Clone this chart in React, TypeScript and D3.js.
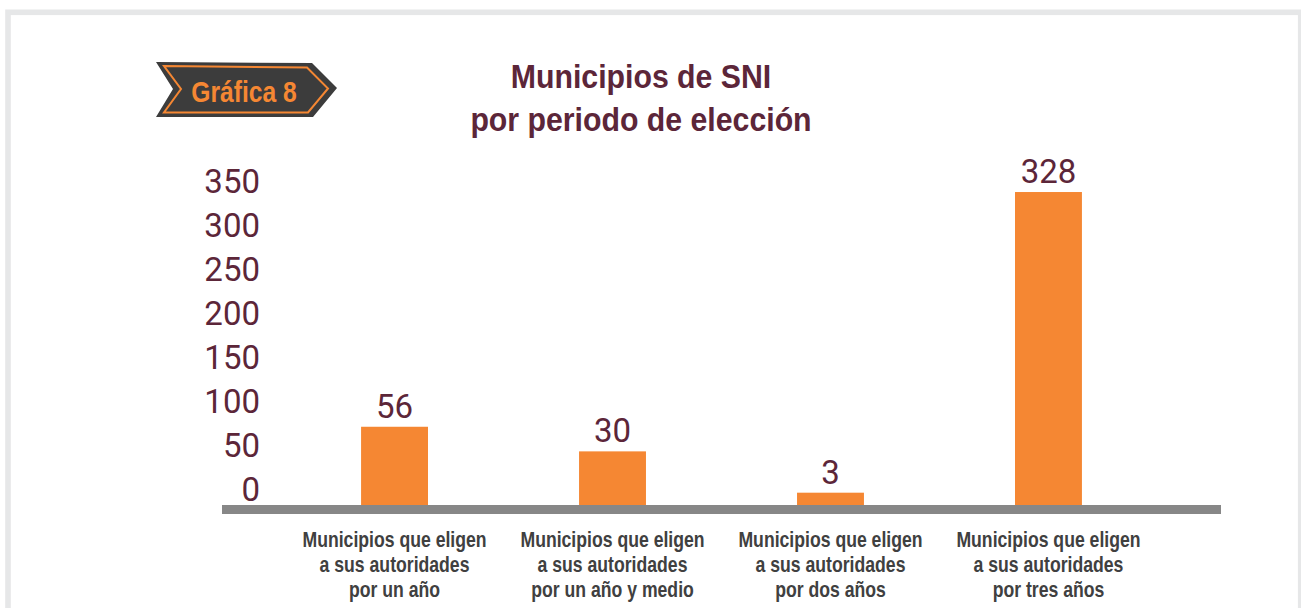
import React, { useEffect, useRef } from 'react';
import * as d3 from 'd3';

// categories, one entry per bar (label lines)
const categories: string[][] = [
  ['Municipios que eligen', 'a sus autoridades', 'por un año'],
  ['Municipios que eligen', 'a sus autoridades', 'por un año y medio'],
  ['Municipios que eligen', 'a sus autoridades', 'por dos años'],
  ['Municipios que eligen', 'a sus autoridades', 'por tres años'],
];

// counts printed on top of each bar
const counts: number[] = [56, 30, 3, 328];

// bar heights as they are drawn in the source, read against its y axis
// (the source does not draw them in proportion to the printed counts)
const barLevels: number[] = [89, 61, 14, 356];

const yTicks: number[] = [0, 50, 100, 150, 200, 250, 300, 350];

const title: string[] = ['Municipios de SNI', 'por periodo de elección'];
const badge = 'Gráfica 8';

const W = 1301;
const H = 608;
const ORANGE = '#f58733';
const MAROON = '#5c2639';
// no narrow face is installed, so Liberation Sans Bold is squeezed horizontally
const SANS = '"Liberation Sans", Arial, sans-serif';

const App = () => {
  const ref = useRef<SVGSVGElement>(null);

  useEffect(() => {
    const svg = d3.select(ref.current);
    svg.selectAll('*').remove();

    const keys = categories.map((c) => c.join(' '));

    const x = d3.scaleBand<string>()
      .domain(keys)
      .range([222, 1221])
      .paddingInner(0.693)
      .paddingOuter(0.638);

    const y = d3.scaleLinear().domain([0, 350]).range([505, 197.3]);

    // outer frame
    svg.append('rect')
      .attr('x', 8)
      .attr('y', 12.3)
      .attr('width', 1292.7)
      .attr('height', 700)
      .attr('fill', '#fff')
      .attr('stroke', '#e6e7e8')
      .attr('stroke-width', 5.6);

    // badge
    const badgeG = svg.append('g');
    badgeG.append('path')
      .attr('d', 'M156,62 L312,63 L337,88 L313,117 L156,117 L173,89 Z')
      .attr('fill', '#3c3c3c');
    badgeG.append('path')
      .attr('d', 'M164,66 L307,67.5 L328,88.5 L308,112.5 L164,112.5 L181,89 Z')
      .attr('fill', 'none')
      .attr('stroke', ORANGE)
      .attr('stroke-width', 2);
    badgeG.append('text')
      .attr('transform', 'translate(244,102.3) scale(0.85,1)')
      .attr('text-anchor', 'middle')
      .style('font-family', SANS)
      .style('font-weight', 'bold')
      .style('font-size', '29px')
      .attr('fill', ORANGE)
      .text(badge);

    // title
    svg.append('g')
      .selectAll('text')
      .data(title)
      .join('text')
      .attr('transform', (_, i) => `translate(641,${87.7 + i * 43.5}) scale(0.89,1)`)
      .attr('text-anchor', 'middle')
      .style('font-family', SANS)
      .style('font-weight', 'bold')
      .style('font-size', '34px')
      .attr('fill', MAROON)
      .text((d) => d);

    // y tick labels
    svg.append('g')
      .selectAll('text')
      .data(yTicks)
      .join('text')
      .attr('x', 260)
      .attr('y', (d) => y(d) - 4)
      .attr('text-anchor', 'end')
      .style('font-family', 'Roboto, sans-serif')
      .style('font-size', '33px')
      .attr('fill', MAROON)
      .text((d) => d);

    // bars
    svg.append('g')
      .selectAll('rect')
      .data(barLevels)
      .join('rect')
      .attr('x', (_, i) => x(keys[i]) ?? 0)
      .attr('y', (d) => y(d))
      .attr('width', x.bandwidth())
      .attr('height', (d) => y(0) - y(d))
      .attr('fill', ORANGE);

    // value labels
    svg.append('g')
      .selectAll('text')
      .data(counts)
      .join('text')
      .attr('x', (_, i) => (x(keys[i]) ?? 0) + x.bandwidth() / 2)
      .attr('y', (_, i) => y(barLevels[i]) - 9)
      .attr('text-anchor', 'middle')
      .style('font-family', 'Roboto, sans-serif')
      .style('font-size', '33px')
      .attr('fill', MAROON)
      .text((d) => d);

    // baseline
    svg.append('rect')
      .attr('x', x.range()[0])
      .attr('y', y(0))
      .attr('width', x.range()[1] - x.range()[0])
      .attr('height', 9)
      .attr('fill', '#878787');

    // category labels
    svg.append('g')
      .selectAll('text')
      .data(categories)
      .join('text')
      .attr('transform', (_, i) => `translate(${(x(keys[i]) ?? 0) + x.bandwidth() / 2},547.3) scale(0.82,1)`)
      .attr('text-anchor', 'middle')
      .style('font-family', SANS)
      .style('font-weight', 'bold')
      .style('font-size', '21.5px')
      .attr('fill', '#404040')
      .each(function (lines) {
        const t = d3.select(this);
        lines.forEach((line, j) => {
          t.append('tspan')
            .attr('x', 0)
            .attr('y', j * 25)
            .text(line);
        });
      });
  }, []);

  return (
    <div style={{ position: 'absolute', left: 0, top: 0, width: W, height: H, background: '#fff' }}>
      <svg ref={ref} width={W} height={H} style={{ display: 'block' }} />
    </div>
  );
};

export default App;
